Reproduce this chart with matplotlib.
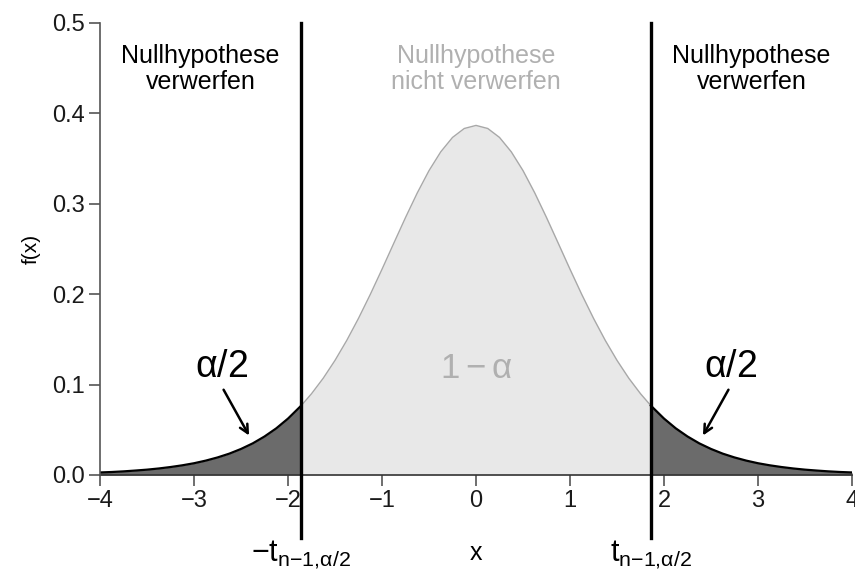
import numpy as np
import matplotlib
matplotlib.use("Agg")
import matplotlib.pyplot as plt

plt.rcParams["font.family"] = ["Liberation Sans", "DejaVu Sans"]
plt.rcParams["mathtext.fontset"] = "custom"
plt.rcParams["mathtext.rm"] = "Liberation Sans"
plt.rcParams["mathtext.it"] = "Liberation Sans"
plt.rcParams["mathtext.bf"] = "Liberation Sans"

# density (symmetric), critical value at +-1.86
x_half = [0.0, 0.125, 0.25, 0.375, 0.5, 0.625, 0.75, 0.875, 1.0, 1.125, 1.25,
          1.375, 1.5, 1.625, 1.75, 1.86, 2.0, 2.125, 2.25, 2.375, 2.5, 2.625,
          2.75, 2.875, 3.0, 3.125, 3.25, 3.375, 3.5, 3.625, 3.75, 3.875, 4.0]
y_half = [0.3867, 0.3833, 0.3734, 0.3575, 0.3367, 0.3120, 0.2848, 0.2563, 0.2276,
          0.1997, 0.1733, 0.1489, 0.1268, 0.1071, 0.0899, 0.0767, 0.0624, 0.0516,
          0.0426, 0.0350, 0.0288, 0.0236, 0.0194, 0.0159, 0.0130, 0.0107, 0.0088,
          0.0072, 0.0059, 0.0049, 0.0040, 0.0033, 0.0028]
t_crit = 1.86
x_ticks = [-4, -3, -2, -1, 0, 1, 2, 3, 4]
y_ticks = [0.0, 0.1, 0.2, 0.3, 0.4, 0.5]

xs = np.array([-v for v in x_half[:0:-1]] + x_half)
ys = np.array(y_half[:0:-1] + y_half)

DARK = "#6b6b6b"
LIGHT = "#e8e8e8"
GREY_TXT = "#b0b0b0"
AX_COL = "#555555"

fig = plt.figure(figsize=(8.55, 5.72), dpi=100)
ax = fig.add_axes([0.117, 0.1696, 0.8795, 0.7902])

mid = (xs >= -t_crit) & (xs <= t_crit)
left = xs <= -t_crit
right = xs >= t_crit

ax.fill_between(xs[mid], 0, ys[mid], color=LIGHT, lw=0)
ax.plot(xs[mid], ys[mid], color="#a8a8a8", lw=1.0)
for m in (left, right):
    ax.fill_between(xs[m], 0, ys[m], color=DARK, lw=0)
    ax.plot(xs[m], ys[m], color="black", lw=1.6)

ax.plot([-4, 4], [0, 0], color="#333333", lw=1.2, clip_on=False)
for xc in (-t_crit, t_crit):
    ax.plot([xc, xc], [-0.070, 0.5], color="black", lw=2.4, clip_on=False, zorder=5)

ax.set_xlim(-4, 4)
ax.set_ylim(0, 0.5)
for s in ("top", "right"):
    ax.spines[s].set_visible(False)
ax.spines["left"].set_color(AX_COL)
ax.spines["left"].set_linewidth(1.2)
ax.spines["bottom"].set_visible(False)
ax.set_xticks(x_ticks)
ax.set_xticklabels(["\u22124", "\u22123", "\u22122", "\u22121", "0", "1", "2", "3", "4"])
ax.set_yticks(y_ticks)
ax.set_yticklabels([f"{v:.1f}" for v in y_ticks])
ax.tick_params(axis="both", labelsize=17, length=8, width=1.2, color=AX_COL,
               labelcolor="#1a1a1a", pad=3)
ax.set_ylabel("f(x)", fontsize=15, labelpad=8)

# labels under the axis
ax.text(0, -0.086, "x", fontsize=18, ha="center", va="center", clip_on=False)
ax.text(-t_crit, -0.088, r"$-\mathrm{t}_{\mathrm{n{-}1{,}}\alpha/2}$", fontsize=22,
        ha="center", va="center", clip_on=False)
ax.text(t_crit, -0.088, r"$\mathrm{t}_{\mathrm{n{-}1{,}}\alpha/2}$", fontsize=22,
        ha="center", va="center", clip_on=False)

# region captions
ax.text(-2.93, 0.449, "Nullhypothese\nverwerfen", fontsize=18, ha="center",
        va="center", linespacing=1.1)
ax.text(2.93, 0.449, "Nullhypothese\nverwerfen", fontsize=18, ha="center",
        va="center", linespacing=1.1)
ax.text(0, 0.449, "Nullhypothese\nnicht verwerfen", fontsize=18, ha="center",
        va="center", linespacing=1.1, color=GREY_TXT)
ax.text(0, 0.118, r"$1-\alpha$", fontsize=25, ha="center", va="center", color=GREY_TXT)

# alpha/2 arrows
for sgn in (-1, 1):
    ax.text(sgn * 2.71, 0.119, r"$\alpha/2$", fontsize=27, ha="center", va="center")
    ax.annotate("", xy=(sgn * 2.40, 0.041), xytext=(sgn * 2.70, 0.097),
                arrowprops=dict(arrowstyle="->,head_length=0.6,head_width=0.3",
                                color="black", lw=1.8))

fig.savefig("out.png", dpi=100)
